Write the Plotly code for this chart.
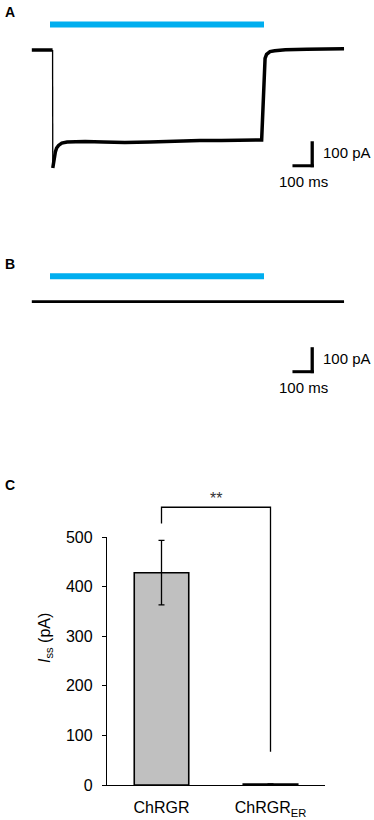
import plotly.graph_objects as go

# ---------------- data ----------------
# Panel A: photocurrent trace of ChRGR (time in ms, current in pA)
trace_a_t = [-85, -60, -40, -20, 0, 12, 13, 16, 20, 25, 31, 40, 55, 80, 120, 164, 250, 350, 467,
             600, 700, 800, 900, 986, 989, 993, 997, 1001, 1005, 1012, 1020, 1028, 1050, 1100,
             1200, 1300, 1374]
trace_a_i = [0, -1, 1, 0, 0, 0, -454, -435, -412, -392, -377, -367, -358, -354, -353, -352, -354,
             -356, -354, -350, -348, -348, -346, -346, -346, -269, -173, -77, -32, -17, -10, -6,
             -3, 1, 3, 4, 5]
# Panel B: ChRGR_ER trace (no photocurrent)
trace_b_t = [-85, 100, 300, 500, 700, 900, 1100, 1300, 1374]
trace_b_i = [0, 0, 0, 0, 0, 0, 0, 0, 0]
# Light pulse (ms)
light_on, light_off = 0, 1000
# Scale bars
scale_ms, scale_pa = 100, 100
# Panel C: steady-state current
categories = ["ChRGR", "ChRGR<sub>ER</sub>"]
iss_mean = [428, 2]
iss_err = [65, 0]
y_ticks = [0, 100, 200, 300, 400, 500]
signif = "**"
bracket_y = [527, 560, 560, 67]

# ---------------- geometry ----------------
W, H = 374, 820
PX_PER_MS = 0.214
T0_PX = 50.0
PX_PER_PA = 0.26
BASE_A_PX = 50.0
BASE_B_PX = 301.7
LIGHT_OFFSET_PA = 98

FONT = "Arial, Liberation Sans, sans-serif"
BLUE = "#00AEEF"

def pfy(px):
    return 1 - px / H

x_range = [-T0_PX / PX_PER_MS, (W - T0_PX) / PX_PER_MS]
ya_dom = [pfy(200), 1.0]
ya_range = [(BASE_A_PX - 200) / PX_PER_PA, BASE_A_PX / PX_PER_PA]
yb_dom = [pfy(420), pfy(200)]
yb_range = [(BASE_B_PX - 420) / PX_PER_PA, (BASE_B_PX - 200) / PX_PER_PA]

C_ZERO_PX = 785.0
C_PPU = 0.496
xc_dom = [107 / W, 325 / W]
yc_dom = [pfy(C_ZERO_PX), pfy(C_ZERO_PX - 500 * C_PPU)]
yd_dom = [pfy(C_ZERO_PX), pfy(C_ZERO_PX - 600 * C_PPU)]

fig = go.Figure()

# ---- Panel A ----
fig.add_trace(go.Scatter(x=[light_on, light_off], y=[LIGHT_OFFSET_PA] * 2, mode="lines",
                         line=dict(color=BLUE, width=6), xaxis="x", yaxis="y", hoverinfo="skip"))
fig.add_trace(go.Scatter(x=trace_a_t[:6], y=trace_a_i[:6], mode="lines",
                         line=dict(color="black", width=3.5), xaxis="x", yaxis="y"))
fig.add_trace(go.Scatter(x=trace_a_t[5:7], y=trace_a_i[5:7], mode="lines",
                         line=dict(color="black", width=1.3), xaxis="x", yaxis="y"))
fig.add_trace(go.Scatter(x=trace_a_t[6:], y=trace_a_i[6:], mode="lines",
                         line=dict(color="black", width=3.5), xaxis="x", yaxis="y"))

# ---- Panel B ----
fig.add_trace(go.Scatter(x=[light_on, light_off], y=[LIGHT_OFFSET_PA] * 2, mode="lines",
                         line=dict(color=BLUE, width=6), xaxis="x2", yaxis="y2", hoverinfo="skip"))
fig.add_trace(go.Scatter(x=trace_b_t, y=trace_b_i, mode="lines",
                         line=dict(color="black", width=2.8), xaxis="x2", yaxis="y2"))

# ---- Scale bars (A and B) ----
shapes = []
annotations = []
bar_th_pa = 3 / PX_PER_PA
bar_th_ms = 3.3 / PX_PER_MS
for xr, yr, bottom in [("x", "y", -451), ("x2", "y2", -275)]:
    right = 1233
    shapes.append(dict(type="rect", xref=xr, yref=yr, x0=right - scale_ms, x1=right,
                       y0=bottom, y1=bottom + bar_th_pa, fillcolor="black", line=dict(width=0)))
    shapes.append(dict(type="rect", xref=xr, yref=yr, x0=right - bar_th_ms, x1=right,
                       y0=bottom, y1=bottom + scale_pa, fillcolor="black", line=dict(width=0)))
    annotations.append(dict(text=f"{scale_pa} pA", xref=xr, yref=yr, x=right,
                            y=bottom + scale_pa / 2, xanchor="left", yanchor="middle",
                            xshift=7, yshift=2, showarrow=False,
                            font=dict(family=FONT, size=15, color="black")))
    annotations.append(dict(text=f"{scale_ms} ms", xref=xr, yref=yr, x=right - scale_ms / 2,
                            y=bottom, xanchor="center", yanchor="middle", yshift=-14.5,
                            showarrow=False, font=dict(family=FONT, size=15, color="black")))

# ---- Panel C ----
fig.add_trace(go.Bar(x=[0, 1], y=iss_mean, width=0.5,
                     marker=dict(color="#C0C0C0", line=dict(color="black", width=1.6)),
                     error_y=dict(type="data", array=iss_err, visible=True, color="black",
                                  thickness=1.3, width=3),
                     xaxis="x3", yaxis="y3"))
fig.add_trace(go.Scatter(x=[0, 0, 1, 1], y=bracket_y, mode="lines",
                         line=dict(color="black", width=1.3), xaxis="x3", yaxis="y4"))
annotations.append(dict(text=signif, xref="x3", yref="y4", x=0.5, y=bracket_y[1],
                        yanchor="middle", yshift=9, showarrow=False,
                        font=dict(family=FONT, size=16, color="#333333")))
annotations.append(dict(text="<i>I</i><sub>ss</sub> (pA)", xref="paper", yref="paper",
                        x=45 / W, y=pfy(638), xanchor="center", yanchor="middle",
                        textangle=-90, showarrow=False,
                        font=dict(family=FONT, size=16, color="black")))

# Panel labels
for lab, ypx in [("A", 11.7), ("B", 264), ("C", 485)]:
    annotations.append(dict(text=f"<b>{lab}</b>", xref="paper", yref="paper", x=3 / W,
                            y=pfy(ypx), xanchor="left", yanchor="middle", showarrow=False,
                            font=dict(family=FONT, size=14, color="black")))

hidden = dict(visible=False, showgrid=False, zeroline=False, fixedrange=True, automargin=False)

fig.update_layout(
    width=W, height=H,
    margin=dict(l=0, r=0, t=0, b=0, pad=0, autoexpand=False),
    paper_bgcolor="white", plot_bgcolor="rgba(0,0,0,0)",
    showlegend=False,
    font=dict(family=FONT, color="black"),
    xaxis=dict(domain=[0, 1], range=x_range, anchor="y", **hidden),
    yaxis=dict(domain=ya_dom, range=ya_range, anchor="x", **hidden),
    xaxis2=dict(domain=[0, 1], range=x_range, anchor="y2", **hidden),
    yaxis2=dict(domain=yb_dom, range=yb_range, anchor="x2", **hidden),
    xaxis3=dict(domain=xc_dom, range=[-0.5, 1.5], anchor="y3", tickvals=[0, 1],
                ticktext=categories, showline=True, linecolor="black", linewidth=1.3,
                ticks="", showgrid=False, zeroline=False, ticklabelstandoff=8,
                automargin=False,
                tickfont=dict(family=FONT, size=16, color="black"), fixedrange=True),
    yaxis3=dict(domain=yc_dom, range=[0, 500], anchor="x3", tickvals=y_ticks,
                showline=True, linecolor="black", linewidth=1.3, ticks="outside",
                ticklen=4, tickwidth=1.3, tickcolor="black", showgrid=False, zeroline=False,
                ticklabelstandoff=6, automargin=False,
                tickfont=dict(family=FONT, size=16, color="black"), fixedrange=True),
    yaxis4=dict(domain=yd_dom, range=[0, 600], anchor="x3", **hidden),
    shapes=shapes,
    annotations=annotations,
)

post = "document.body.style.margin='0px';document.body.style.padding='0px';"
fig.write_html("out.html", config={"displayModeBar": False}, post_script=post)
